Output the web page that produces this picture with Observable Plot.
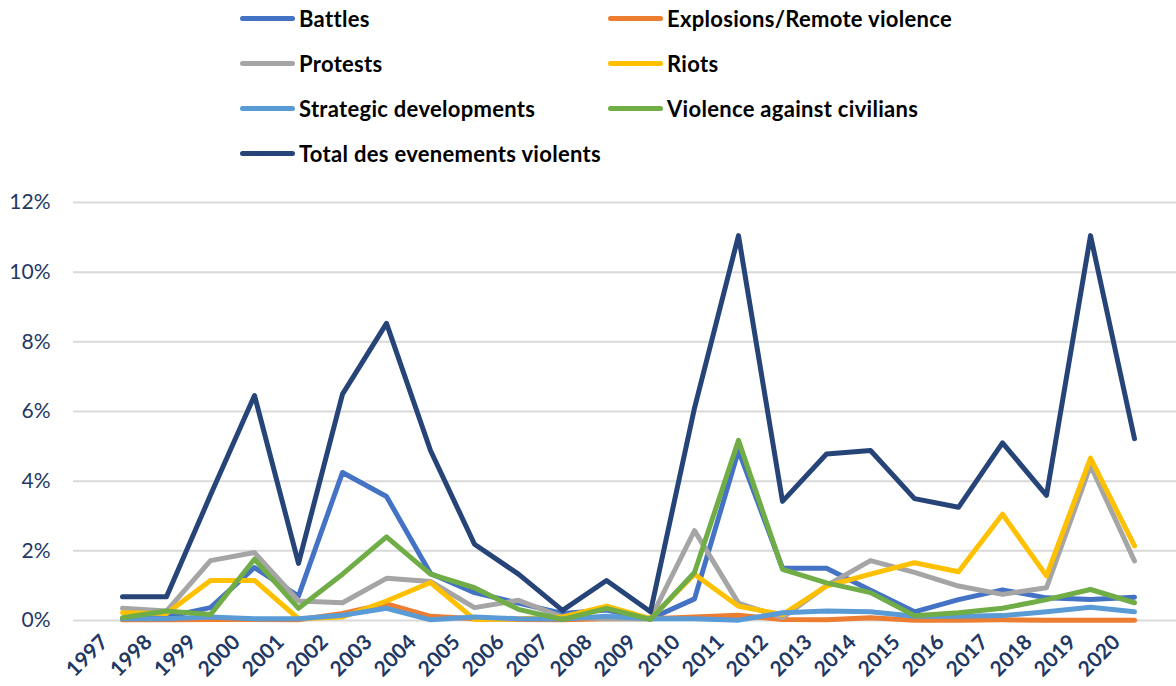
<!DOCTYPE html>
<html>
<head>
<meta charset="utf-8">
<script src="https://cdn.jsdelivr.net/npm/d3@7"></script>
<script src="https://cdn.jsdelivr.net/npm/@observablehq/plot@0.6"></script>
<style>
  body { margin: 0; background: #fff; font-family: Lato, "Open Sans", sans-serif; }
  #legend { position: relative; width: 1176px; height: 180px; }
  .item { position: absolute; display: flex; align-items: center; height: 26px; font-weight: bold; font-size: 22px; letter-spacing: 0.3px; color: #000; white-space: nowrap; }
  .sw { width: 55px; height: 5px; border-radius: 3px; margin-right: 4px; }
  #chart svg { display: block; }
</style>
</head>
<body>
<div id="legend"></div>
<div id="chart"></div>
<script>
const years = ["1997","1998","1999","2000","2001","2002","2003","2004","2005","2006","2007","2008","2009","2010","2011","2012","2013","2014","2015","2016","2017","2018","2019","2020"];
const seriesNames = ["Battles","Explosions/Remote violence","Protests","Riots","Strategic developments","Violence against civilians","Total des evenements violents"];
const seriesColors = ["#4472C4","#ED7D31","#A5A5A5","#FFC000","#5B9BD5","#70AD47","#264478"];
const battles    = [0.05,0.1,0.37,1.52,0.7,4.25,3.56,1.35,0.8,0.5,0.2,0.3,0.05,0.62,4.88,1.5,1.5,0.87,0.25,0.6,0.88,0.65,0.6,0.67];
const explosions = [0.02,0.02,0.03,0.03,0.02,0.2,0.48,0.12,0.05,0.03,0.02,0.05,0.05,0.1,0.15,0.03,0.02,0.08,0.01,0.01,0.02,0.01,0.01,0.01];
const protests   = [0.35,0.27,1.72,1.95,0.56,0.51,1.21,1.12,0.37,0.58,0.1,0.05,0.05,2.58,0.5,0.08,1.0,1.72,1.38,0.99,0.75,0.94,4.45,1.71];
const riots      = [0.22,0.2,1.15,1.15,0.05,0.1,0.56,1.09,0.03,0.05,0.1,0.41,0.05,1.33,0.41,0.17,0.99,1.33,1.66,1.4,3.05,1.28,4.66,2.14];
const strategic  = [0.05,0.05,0.1,0.05,0.05,0.15,0.35,0.02,0.1,0.05,0.04,0.12,0.05,0.05,0.01,0.22,0.27,0.25,0.12,0.12,0.14,0.25,0.38,0.25];
const violence   = [0.08,0.27,0.17,1.76,0.35,1.33,2.4,1.33,0.94,0.32,0.03,0.35,0.03,1.38,5.17,1.47,1.08,0.8,0.14,0.22,0.35,0.6,0.89,0.51];
const total      = [0.68,0.68,3.6,6.46,1.64,6.5,8.53,4.88,2.19,1.33,0.29,1.15,0.25,6.1,11.05,3.42,4.78,4.88,3.5,3.25,5.1,3.59,11.05,5.22];
const yTicks = [0,2,4,6,8,10,12];

const seriesValues = [battles, explosions, protests, riots, strategic, violence, total];
const data = seriesNames.flatMap((name, i) => years.map((yr, j) => ({series: name, year: yr, value: seriesValues[i][j]})));

// Legend (HTML, above the SVG)
const legend = document.getElementById("legend");
const colLeft = [240, 608];
seriesNames.forEach((name, i) => {
  const item = document.createElement("div");
  item.className = "item";
  item.style.left = colLeft[i % 2] + "px";
  item.style.top = (5 + Math.floor(i / 2) * 45) + "px";
  const sw = document.createElement("div");
  sw.className = "sw";
  sw.style.background = seriesColors[i];
  const label = document.createElement("span");
  label.textContent = name;
  item.appendChild(sw);
  item.appendChild(label);
  legend.appendChild(item);
});

const chart = Plot.plot({
  width: 1176,
  height: 506,
  marginLeft: 73,
  marginRight: 0,
  marginTop: 22,
  marginBottom: 66,
  style: {fontFamily: "Lato, 'Open Sans', sans-serif", background: "#fff"},
  x: {type: "point", domain: years, range: [96, 1160], label: null},
  y: {domain: [0, 12], label: null},
  color: {domain: seriesNames, range: seriesColors},
  marks: [
    Plot.ruleY(yTicks, {stroke: "#D9D9D9", strokeWidth: 2}),
    Plot.line(data, {x: "year", y: "value", z: "series", stroke: "series", strokeWidth: 5, strokeLinejoin: "round", strokeLinecap: "round"}),
    Plot.axisY(yTicks, {tickSize: 0, tickPadding: 23, tickFormat: d => d + "%", fontSize: 21, fill: "#1F3864", label: null}),
    Plot.axisX({tickSize: 0, tickPadding: 18, dx: -18, tickRotate: -45, fontSize: 21, fontWeight: "bold", fill: "#1F3864", label: null})
  ]
});
document.getElementById("chart").appendChild(chart);
</script>
</body>
</html>
